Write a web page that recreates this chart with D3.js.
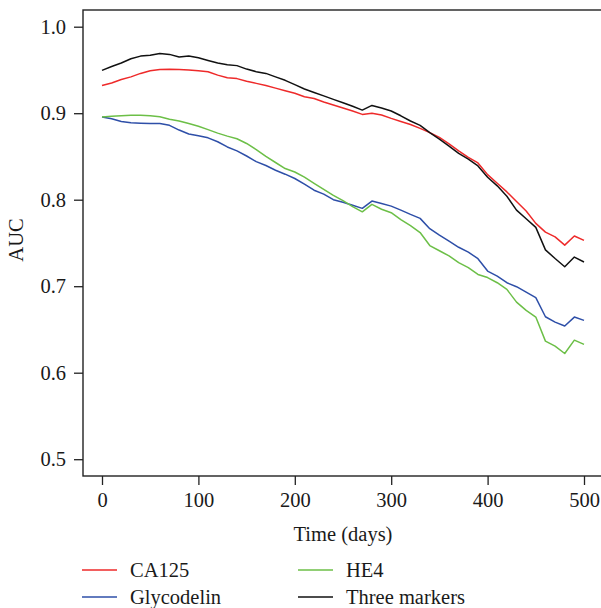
<!DOCTYPE html>
<html>
<head>
<meta charset="utf-8">
<script src="https://cdn.jsdelivr.net/npm/d3@7"></script>
<style>
  body { margin: 0; background: #fff; }
</style>
</head>
<body>
<div id="chart"></div>
<script>
const days = d3.range(0, 501, 10);

const ca125 = [0.932, 0.935, 0.939, 0.942, 0.946, 0.949, 0.9506, 0.9508, 0.9506, 0.950,
  0.949, 0.948, 0.944, 0.941, 0.940, 0.937, 0.9345, 0.932, 0.929, 0.926,
  0.923, 0.919, 0.917, 0.913, 0.9095, 0.906, 0.9025, 0.8986, 0.900, 0.898,
  0.894, 0.8905, 0.887, 0.8825, 0.8775, 0.872, 0.8645, 0.8565, 0.849, 0.8425,
  0.829, 0.819, 0.809, 0.798, 0.787, 0.7726, 0.7625, 0.757, 0.7475, 0.758, 0.753];

const glycodelin = [0.8955, 0.8936, 0.8905, 0.889, 0.8885, 0.888, 0.888, 0.886, 0.8805, 0.876,
  0.874, 0.8715, 0.867, 0.861, 0.8565, 0.8505, 0.844, 0.8395, 0.834, 0.8295,
  0.8245, 0.818, 0.811, 0.8065, 0.800, 0.797, 0.7935, 0.790, 0.7984, 0.7955,
  0.7926, 0.788, 0.783, 0.7784, 0.7665, 0.759, 0.752, 0.745, 0.7394, 0.7318,
  0.7175, 0.7117, 0.704, 0.6994, 0.6932, 0.6867, 0.6647, 0.6585, 0.654, 0.6643, 0.6605];

const he4 = [0.8955, 0.8965, 0.897, 0.8975, 0.8975, 0.897, 0.896, 0.893, 0.891, 0.888,
  0.885, 0.881, 0.877, 0.8735, 0.8705, 0.865, 0.858, 0.850, 0.843, 0.836,
  0.832, 0.826, 0.819, 0.812, 0.805, 0.799, 0.792, 0.786, 0.7946, 0.789,
  0.785, 0.777, 0.770, 0.762, 0.747, 0.741, 0.735, 0.7272, 0.7214, 0.7136,
  0.710, 0.704, 0.6963, 0.6816, 0.672, 0.6643, 0.6365, 0.6307, 0.6222, 0.6376, 0.6327];

const threeMarkers = [0.9495, 0.954, 0.958, 0.963, 0.966, 0.967, 0.969, 0.968, 0.965, 0.966,
  0.964, 0.961, 0.958, 0.956, 0.955, 0.951, 0.948, 0.946, 0.942, 0.938,
  0.933, 0.928, 0.924, 0.920, 0.916, 0.912, 0.908, 0.9036, 0.909, 0.906,
  0.9025, 0.897, 0.891, 0.886, 0.8775, 0.870, 0.862, 0.8536, 0.847, 0.839,
  0.826, 0.816, 0.804, 0.788, 0.778, 0.768, 0.742, 0.732, 0.7225, 0.7337, 0.728];

const xTicks = [0, 100, 200, 300, 400, 500];
const yTicks = [0.5, 0.6, 0.7, 0.8, 0.9, 1.0];

const series = [
  { name: "CA125", values: ca125, color: "#ee2a2a" },
  { name: "Glycodelin", values: glycodelin, color: "#2e4fa8" },
  { name: "HE4", values: he4, color: "#6cbf47" },
  { name: "Three markers", values: threeMarkers, color: "#111111" }
];

const W = 601, H = 608;
const box = { left: 83, top: 10, right: 602, bottom: 476 };
const font = "Liberation Serif";
const fs = 20.5;

const svg = d3.select("#chart").append("svg")
  .attr("width", W)
  .attr("height", H);

const x = d3.scaleLinear().domain([0, 500]).range([102, 584]);
const y = d3.scaleLinear().domain([0.5, 1.0]).range([459.2, 26.7]);

// frame
svg.append("rect")
  .attr("x", box.left)
  .attr("y", box.top)
  .attr("width", box.right - box.left)
  .attr("height", box.bottom - box.top)
  .attr("fill", "none")
  .attr("stroke", "#222")
  .attr("stroke-width", 1.4);

const xAxis = svg.append("g")
  .attr("transform", `translate(0,${box.bottom})`)
  .call(d3.axisBottom(x).tickValues(xTicks).tickSize(9).tickPadding(7).tickFormat(d3.format("d")));
xAxis.select(".domain").remove();

const yAxis = svg.append("g")
  .attr("transform", `translate(${box.left},0)`)
  .call(d3.axisLeft(y).tickValues(yTicks).tickSize(9).tickPadding(8).tickFormat(d3.format(".1f")));
yAxis.select(".domain").remove();

[xAxis, yAxis].forEach(g => g.attr("font-family", font).attr("font-size", fs));
svg.selectAll(".tick line").attr("stroke", "#222").attr("stroke-width", 1.3);
svg.selectAll(".tick text")
  .attr("font-family", font)
  .attr("font-size", fs)
  .attr("fill", "#1a1a1a");

svg.append("text")
  .attr("x", 343)
  .attr("y", 541)
  .attr("text-anchor", "middle")
  .attr("font-family", font)
  .attr("font-size", fs)
  .attr("fill", "#1a1a1a")
  .text("Time (days)");

svg.append("text")
  .attr("transform", "translate(23,240) rotate(-90)")
  .attr("text-anchor", "middle")
  .attr("font-family", font)
  .attr("font-size", fs)
  .attr("fill", "#1a1a1a")
  .text("AUC");

const line = d3.line()
  .x((d, i) => x(days[i]))
  .y(d => y(d));

svg.append("g")
  .selectAll("path")
  .data(series)
  .join("path")
  .attr("d", d => line(d.values))
  .attr("fill", "none")
  .attr("stroke", d => d.color)
  .attr("stroke-width", 1.5)
  .attr("stroke-linejoin", "round");

// legend, two columns
const legendPos = [[82, 570], [82, 597], [298, 570], [298, 597]];
const legend = svg.append("g")
  .selectAll("g")
  .data(series)
  .join("g")
  .attr("transform", (d, i) => `translate(${legendPos[i][0]},${legendPos[i][1]})`);

legend.append("line")
  .attr("x1", 0).attr("x2", 35)
  .attr("y1", 0).attr("y2", 0)
  .attr("stroke", d => d.color)
  .attr("stroke-width", 1.5);

legend.append("text")
  .attr("x", 48)
  .attr("y", 6.5)
  .attr("font-family", font)
  .attr("font-size", fs)
  .attr("fill", "#1a1a1a")
  .text(d => d.name);
</script>
</body>
</html>
